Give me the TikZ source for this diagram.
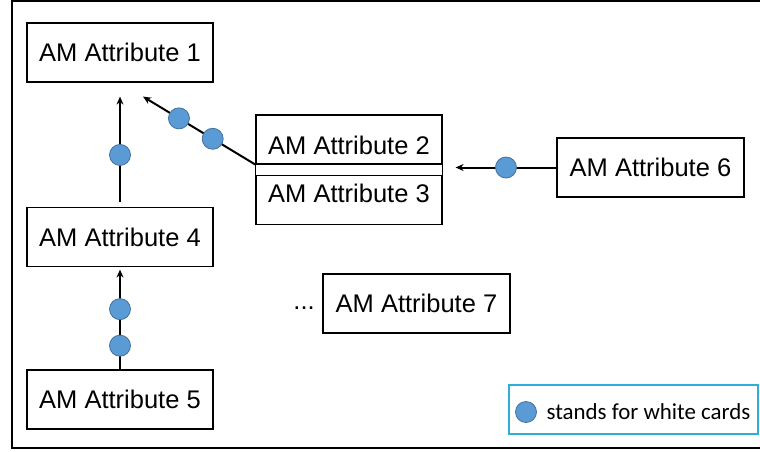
\documentclass[tikz,border=0pt]{standalone}
\usepackage{fontspec}
\setmainfont{Liberation Sans}
\newfontfamily\legendfont{Carlito}
\usepackage{xcolor}
\usetikzlibrary{positioning, arrows.meta, calc}
\definecolor{cardblue}{HTML}{5B9BD5}
\definecolor{carddark}{HTML}{41719C}
\definecolor{legendcyan}{HTML}{2DAEDB}
\tikzstyle{card} = [circle, draw=carddark, fill=cardblue, line width=0.8pt, minimum size=21pt, inner sep=0pt]
\tikzstyle{arrow} = [line width=2pt, -{Stealth[length=8pt, width=7pt]}]

\begin{document}
\begin{tikzpicture}[x=1pt, y=-1pt,
    box/.style={rectangle, draw, line width=1.2pt, minimum width=186pt, minimum height=59pt, inner sep=0pt, font=\fontsize{25.5}{30}\selectfont},
    half/.style={box, minimum height=49pt}]

    \useasboundingbox (0,0) rectangle (760,451);
    % outer frame, open to the right
    \draw[line width=2pt] (11.5,1.2) rectangle (790,447.5);

    % Left column
    \node[box] (attr1) at (120,52.5) {AM Attribute 1};
    \node[box] (attr4) at (120,237) {AM Attribute 4};
    \node[box] (attr5) at (120,399.5) {AM Attribute 5};

    % Stacked pair
    \node[half, text height=29.6pt] (attr2) at (349,139.5) {AM Attribute 2};
    \node[half, text depth=13pt, below=10pt of attr2] (attr3) {AM Attribute 3};
    \draw[line width=1.2pt] (attr2.south west) -- (attr3.north west) (attr2.south east) -- (attr3.north east);

    % Right side
    \node[box, minimum width=187pt] (attr6) at (650.5,167.5) {AM Attribute 6};
    \node[box, minimum width=187pt] (attr7) at (416.5,303.5) {AM Attribute 7};
    \node[font=\fontsize{25.5}{30}\selectfont, inner sep=0pt, left=7.5pt of attr7, yshift=-4.5pt] (more) {...};

    % Arrows with white cards
    \draw[arrow, shorten <=5pt, shorten >=14pt] (attr4.north) -- (attr1.south) node[card, pos=0.418] (c1) {};
    \draw[arrow, shorten >=2.5pt] (attr5.north) -- (attr4.south) node[card, pos=0.232] (c2) {} node[card, pos=0.589] (c3) {};
    \coordinate (tip1) at ($(attr1.south)+(23,14)$);
    \draw[arrow] (attr2.south west) -- (tip1) node[card, pos=0.38] (c4) {} node[card, pos=0.68] (c5) {};
    \draw[arrow, shorten >=13pt] (attr6.west) -- (attr6.west -| attr2.east) node[card, pos=0.443] (c6) {};

    % Legend
    \node[rectangle, draw=legendcyan, line width=1.8pt, minimum width=249pt, minimum height=49pt] (legend) at (633.5,409.5) {};
    \node[card] (legcard) at (526,412) {};
    \node[font=\legendfont\fontsize{22.9}{26}\selectfont, inner sep=0pt, right=9.5pt of legcard] (legtext) {stands for white cards};

\end{tikzpicture}
\end{document}
